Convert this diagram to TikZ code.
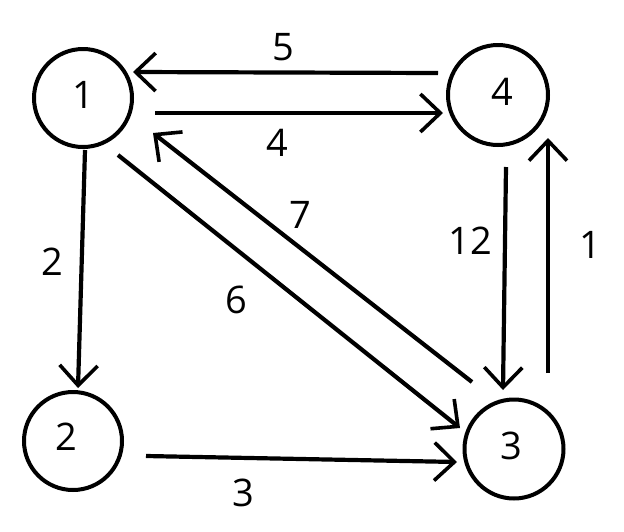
\documentclass[tikz,border=0pt]{standalone}
\usepackage{fontspec}
\setmainfont{Open Sans}
\usetikzlibrary{arrows.meta,calc}
\begin{document}
\begin{tikzpicture}[x=1pt,y=-1pt,
  vtx/.style={circle,draw,line width=4pt,inner sep=0pt,font=\fontsize{38}{40}\selectfont},
  arr/.style={line width=4.2pt,-{Straight Barb[length=20pt,width=38pt,line width=3.6pt]}},
  wlab/.style={font=\fontsize{38}{40}\selectfont,inner sep=0pt}]
\useasboundingbox (0,0) rectangle (624,531);
\node[vtx,minimum size=98pt] (n1) at (83,98) {};
\node[vtx,minimum size=100pt] (n4) at (498,95) {};
\node[vtx,minimum size=98pt] (n2) at (73,441) {};
\node[vtx,minimum size=99pt] (n3) at (514,449) {};
\node[wlab] (t1) at (83,95) {1};
\node[wlab] (t4) at (502,92) {4};
\node[wlab] (t2) at (66,437) {2};
\node[wlab] (t3) at (511,446) {3};
% edges
\draw[arr] ($(n4)+(-60,-22)$) -- ($(n1)+(50,-26)$);
\draw[arr] ($(n1)+(72,15)$) -- ($(n4)+(-55,18)$);
\draw[arr] ($(n1)+(2,52)$) -- ($(n2)+(5,-53)$);
\draw[arr] ($(n2)+(73,15)$) -- ($(n3)+(-57,13)$);
\draw[arr] ($(n1)+(35,57)$) -- ($(n3)+(-54,-21)$);
\draw[arr] ($(n3)+(-42,-67)$) -- ($(n1)+(70,35)$);
\draw[arr] ($(n4)+(8,72)$) -- ($(n3)+(-11,-59)$);
\draw[arr] ($(n3)+(34,-76)$) -- ($(n4)+(50,43)$);
% weights
\node[wlab] (w5) at (283,47) {5};
\node[wlab] (w4) at (277,143) {4};
\node[wlab] (w2) at (52,262) {2};
\node[wlab] (w3) at (243,493) {3};
\node[wlab] (w6) at (236,300) {6};
\node[wlab] (w7) at (300,215) {7};
\node[wlab] (w12) at (470,241) {12};
\node[wlab] (w1) at (590,245) {1};
\end{tikzpicture}
\end{document}
